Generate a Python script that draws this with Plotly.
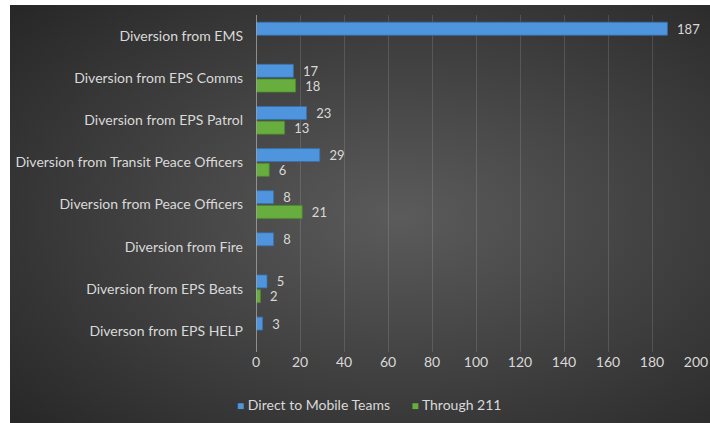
import base64
import plotly.graph_objects as go

# Diversion counts by source
categories = [
    "Diversion from EMS",
    "Diversion from EPS Comms",
    "Diversion from EPS Patrol",
    "Diversion from Transit Peace Officers",
    "Diversion from Peace Officers",
    "Diversion from Fire",
    "Diversion from EPS Beats",
    "Diverson from EPS HELP",
]
direct_to_mobile = [187, 17, 23, 29, 8, 8, 5, 3]
through_211 = [None, 18, 13, 6, 21, None, 2, None]

series_names = ["Direct to Mobile Teams", "Through 211"]
x_ticks = list(range(0, 201, 20))

BLUE = "#4f95de"
GREEN = "#67ae3f"
TEXT = "#d9d9d9"
EDGE = "#262626"
FONT = "Lato, 'Open Sans', sans-serif"
FS = 14
LABEL_FS = 13

W, H = 710, 423
ML, MR, MT, MB = 256, 14, 15, 71
PW, PH = W - ML - MR, H - MT - MB

# whole-page backdrop: thin white border on the left and top,
# dark radial gradient for the chart frame
FRAME_L, FRAME_T = 10, 5
svg = (
    f'<svg xmlns="http://www.w3.org/2000/svg" width="{W}" height="{H}" '
    f'preserveAspectRatio="none" viewBox="0 0 {W} {H}">'
    '<defs><radialGradient id="g" cx="0.55" cy="0.5" r="0.75">'
    '<stop offset="0" stop-color="#5b5b5b"/>'
    f'<stop offset="1" stop-color="{EDGE}"/>'
    '</radialGradient></defs>'
    f'<rect width="{W}" height="{H}" fill="white"/>'
    f'<rect x="{FRAME_L}" y="{FRAME_T}" width="{W}" height="{H}" '
    'fill="url(#g)"/></svg>'
)
bg_uri = "data:image/svg+xml;base64," + base64.b64encode(svg.encode()).decode()

label_tpl = "\u00a0\u00a0%{x}"

fig = go.Figure()
fig.add_trace(go.Bar(
    y=categories, x=direct_to_mobile, orientation="h", name=series_names[0],
    marker=dict(color=BLUE, line=dict(color="#3670ad", width=0.8)),
    text=direct_to_mobile, textposition="outside", texttemplate=label_tpl,
    constraintext="none",
    textfont=dict(color=TEXT, size=LABEL_FS, family=FONT), cliponaxis=False,
    showlegend=False,
))
fig.add_trace(go.Bar(
    y=categories, x=through_211, orientation="h", name=series_names[1],
    marker=dict(color=GREEN, line=dict(color="#4c8a2c", width=0.8)),
    text=through_211, textposition="outside", texttemplate=label_tpl,
    constraintext="none",
    textfont=dict(color=TEXT, size=LABEL_FS, family=FONT), cliponaxis=False,
    showlegend=False,
))

# legend drawn as a centred row of coloured squares and labels
legend_text = (
    f'<span style="color:{BLUE};font-size:12px">■</span> {series_names[0]}'
    '\u00a0\u00a0\u00a0\u00a0\u00a0\u00a0'
    f'<span style="color:{GREEN};font-size:12px">■</span> {series_names[1]}'
)
legend_x = (368.5 - ML) / PW
legend_y = (MT + PH - 404) / PH

fig.update_layout(
    width=W, height=H,
    margin=dict(l=ML, r=MR, t=MT, b=MB, autoexpand=False),
    paper_bgcolor=EDGE,
    plot_bgcolor="rgba(0,0,0,0)",
    barmode="group", bargap=0.3, bargroupgap=0.12,
    font=dict(family=FONT, color=TEXT, size=FS),
    xaxis=dict(
        range=[0, 200], tickvals=x_ticks, showgrid=True,
        gridcolor="rgba(255,255,255,0.13)", gridwidth=1,
        zeroline=False, showline=False, ticks="", automargin=False,
        tickfont=dict(color=TEXT, size=FS, family=FONT),
        fixedrange=True,
    ),
    yaxis=dict(
        autorange="reversed", showgrid=False, zeroline=False,
        showline=False, ticks="", ticklabelstandoff=12, automargin=False,
        tickfont=dict(color=TEXT, size=FS, family=FONT),
    ),
    shapes=[dict(
        type="line", xref="x", yref="paper", x0=0, x1=0, y0=0, y1=1,
        line=dict(color="#a8a8a8", width=1.5), layer="above",
    )],
    images=[dict(
        source=bg_uri, xref="paper", yref="paper",
        x=-ML / PW, y=(MT + PH) / PH,
        sizex=W / PW, sizey=H / PH,
        xanchor="left", yanchor="top", sizing="stretch", layer="below",
    )],
    annotations=[dict(
        text=legend_text, xref="paper", yref="paper",
        x=legend_x, y=legend_y, xanchor="center", yanchor="middle",
        showarrow=False, font=dict(color=TEXT, size=FS, family=FONT),
    )],
)

fig.write_html("out.html")
